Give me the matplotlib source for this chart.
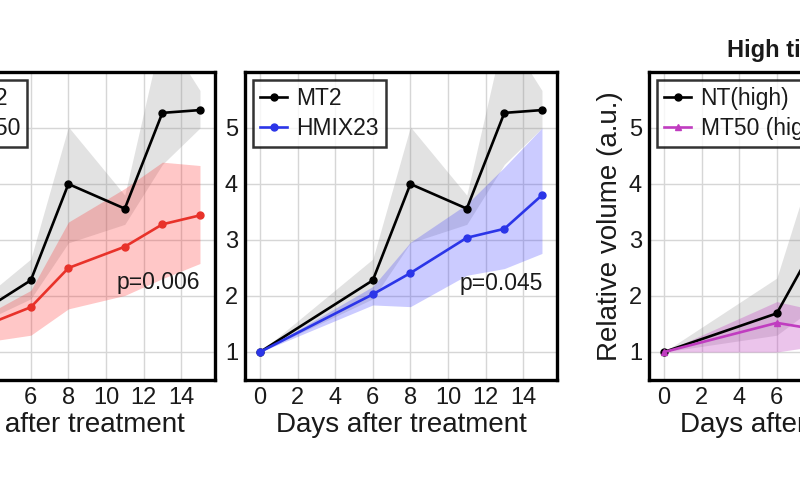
import matplotlib
matplotlib.use("Agg")
import matplotlib.pyplot as plt

plt.rcParams['font.family'] = ['Liberation Sans', 'DejaVu Sans']

# ---- data ----
days = [0, 6, 8, 11, 13, 15]
mt2 = [1.0, 2.28, 4.00, 3.56, 5.27, 5.32]
mt2_hi = [1.0, 2.66, 5.02, 3.80, 6.73, 5.67]
mt2_lo = [1.0, 1.95, 2.95, 3.28, 4.35, 5.00]

mt50 = [1.0, 1.80, 2.50, 2.88, 3.28, 3.44]
mt50_hi = [1.0, 2.10, 3.32, 3.92, 4.39, 4.33]
mt50_lo = [1.0, 1.30, 1.77, 2.01, 2.31, 2.58]

hmix23 = [1.0, 2.03, 2.41, 3.04, 3.20, 3.80]
hmix23_hi = [1.0, 2.17, 2.96, 3.64, 4.30, 5.00]
hmix23_lo = [1.0, 1.84, 1.81, 2.37, 2.49, 2.76]

days_high = [0, 6, 8]
nt_high = [1.0, 1.69, 2.90]
nt_high_hi = [1.0, 2.32, 4.45]
nt_high_lo = [1.0, 1.30, 1.80]
mt50_high = [1.0, 1.52, 1.41]
mt50_high_hi = [1.0, 1.90, 1.75]
mt50_high_lo = [1.0, 1.00, 1.10]

xticks = [0, 2, 4, 6, 8, 10, 12, 14]
yticks = [1, 2, 3, 4, 5]
pvals = ["p=0.006", "p=0.045"]

TXT = '#1a1a1a'
RED = '#e8322a'
BLUE = '#2b35e8'
MAG = '#c03cc0'

fig = plt.figure(figsize=(8, 4.8), dpi=100)

W, H = 800.0, 480.0
bottom = (H - 380) / H
height = 308 / H
width = 312 / W

def make_ax(left_px):
    ax = fig.add_axes([left_px / W, bottom, width, height])
    ax.set_xlim(-0.8, 15.8)
    ax.set_ylim(0.5, 6.0)
    ax.set_xticks(xticks)
    ax.set_yticks(yticks)
    ax.grid(True, color='#d6d6d6', lw=1.0)
    ax.set_axisbelow(True)
    for s in ax.spines.values():
        s.set_linewidth(2.4)
        s.set_color('black')
    ax.tick_params(length=0, labelsize=17, colors=TXT, pad=5)
    ax.set_xlabel("Days after treatment", fontsize=20, color=TXT, labelpad=2)
    return ax

def series(ax, x, y, lo, hi, color, label, marker='o', falpha=0.25, fcolor=None):
    ax.fill_between(x, lo, hi, color=fcolor or color, alpha=falpha, lw=0)
    ax.plot(x, y, color=color, lw=1.9, marker=marker, ms=5, label=label)

def legend(ax, anchor=(0, 1)):
    lg = ax.legend(loc='upper left', bbox_to_anchor=anchor, fontsize=16.5,
                   frameon=True, fancybox=False,
                   edgecolor='black', handlelength=1.2, handletextpad=0.4,
                   borderpad=0.3, labelspacing=0.3, borderaxespad=0.35)
    lg.get_frame().set_linewidth(1.8)
    for t in lg.get_texts():
        t.set_color(TXT)

# Panel 1
ax1 = make_ax(-97)
series(ax1, days, mt2, mt2_lo, mt2_hi, 'black', 'MT2', fcolor='0.55')
series(ax1, days, mt50, mt50_lo, mt50_hi, RED, 'MT50', fcolor='#ff2020')
ax1.text(15.0, 2.24, pvals[0], ha='right', va='center', fontsize=16.5, color=TXT)
legend(ax1, anchor=(0.024, 1))

# Panel 2
ax2 = make_ax(245)
series(ax2, days, mt2, mt2_lo, mt2_hi, 'black', 'MT2', fcolor='0.55')
series(ax2, days, hmix23, hmix23_lo, hmix23_hi, BLUE, 'HMIX23', fcolor='#3030ff')
ax2.text(15.05, 2.23, pvals[1], ha='right', va='center', fontsize=16.5, color=TXT)
legend(ax2)

# Panel 3
ax3 = make_ax(649)
series(ax3, days_high, nt_high, nt_high_lo, nt_high_hi, 'black', 'NT(high)', fcolor='0.55')
series(ax3, days_high, mt50_high, mt50_high_lo, mt50_high_hi, MAG, 'MT50 (high)',
       marker='^', falpha=0.3)
ax3.set_ylabel("Relative volume (a.u.)", fontsize=20, color=TXT, labelpad=4)
legend(ax3)

fig.text(727 / W, 1 - 51 / H, "High titer", fontsize=17, fontweight='bold',
         ha='left', va='center', color=TXT)

fig.savefig("out.png", dpi=100)
